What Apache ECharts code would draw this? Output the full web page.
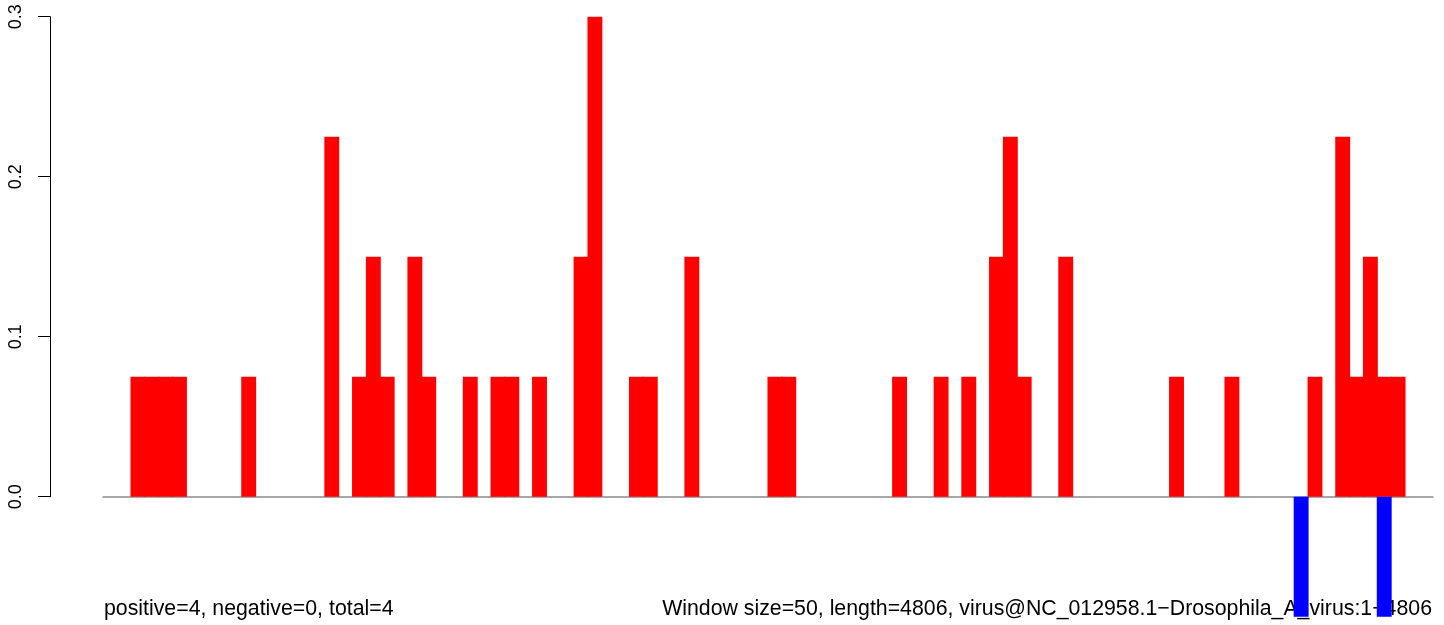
<!DOCTYPE html>
<html>
<head>
<meta charset="utf-8">
<script src="https://cdn.jsdelivr.net/npm/echarts@6/dist/echarts.min.js"></script>
<style>
  html, body { margin: 0; padding: 0; background: #ffffff; }
  #chart { width: 1444px; height: 625px; }
</style>
</head>
<body>
<div id="chart"></div>
<script>
// Window start positions (window size 50, length 4806)
const windowStarts = Array.from({length: 96}, (_, i) => String(i * 50 + 1));

// Positive-strand values per window
const positiveValues = [
  0, 0, 0.075, 0.075, 0.075, 0.075, 0, 0, 0, 0,
  0.075, 0, 0, 0, 0, 0, 0.225, 0, 0.075, 0.15,
  0.075, 0, 0.15, 0.075, 0, 0, 0.075, 0, 0.075, 0.075,
  0, 0.075, 0, 0, 0.15, 0.3, 0, 0, 0.075, 0.075,
  0, 0, 0.15, 0, 0, 0, 0, 0, 0.075, 0.075,
  0, 0, 0, 0, 0, 0, 0, 0.075, 0, 0,
  0.075, 0, 0.075, 0, 0.15, 0.225, 0.075, 0, 0, 0.15,
  0, 0, 0, 0, 0, 0, 0, 0.075, 0, 0,
  0, 0.075, 0, 0, 0, 0, 0, 0.075, 0, 0.225,
  0.075, 0.15, 0.075, 0.075, 0, 0
];

// Negative-strand values per window
const negativeValues = [
  0, 0, 0, 0, 0, 0, 0, 0, 0, 0,
  0, 0, 0, 0, 0, 0, 0, 0, 0, 0,
  0, 0, 0, 0, 0, 0, 0, 0, 0, 0,
  0, 0, 0, 0, 0, 0, 0, 0, 0, 0,
  0, 0, 0, 0, 0, 0, 0, 0, 0, 0,
  0, 0, 0, 0, 0, 0, 0, 0, 0, 0,
  0, 0, 0, 0, 0, 0, 0, 0, 0, 0,
  0, 0, 0, 0, 0, 0, 0, 0, 0, 0,
  0, 0, 0, 0, 0, 0, -0.075, 0, 0, 0,
  0, 0, -0.075, 0, 0, 0
];

const yTickValues = [0, 0.1, 0.2, 0.3];
const leftNote = 'positive=4, negative=0, total=4';
const rightNote = 'Window size=50, length=4806, virus@NC_012958.1\u2212Drosophila_A_virus:1\u22124806';

const FONT = '"Liberation Sans", Arial, Helvetica, sans-serif';
const chart = echarts.init(document.getElementById('chart'), null, {renderer: 'canvas'});

const gridLeft = 103.3, gridWidth = 1329.4, gridTop = 16.7, gridHeight = 480;
const noZero = arr => arr.map(v => (v === 0 ? null : v));

chart.setOption({
  animation: false,
  backgroundColor: '#ffffff',
  grid: { left: gridLeft, top: gridTop, width: gridWidth, height: gridHeight, containLabel: false },
  xAxis: {
    type: 'category',
    data: windowStarts,
    boundaryGap: true,
    axisLine: { show: true, lineStyle: { color: '#a6a6a6', width: 2 } },
    axisTick: { show: false },
    axisLabel: { show: false },
    splitLine: { show: false }
  },
  yAxis: {
    type: 'value',
    min: yTickValues[0],
    max: yTickValues[yTickValues.length - 1],
    interval: 0.1,
    offset: gridLeft - 50,
    axisLine: { show: true, lineStyle: { color: '#000000', width: 1 } },
    axisTick: { show: true, length: 12, lineStyle: { color: '#000000', width: 1 } },
    axisLabel: {
      rotate: 90,
      margin: 25,
      fontSize: 18,
      fontFamily: FONT,
      color: '#000000',
      formatter: v => v.toFixed(1)
    },
    splitLine: { show: false }
  },
  graphic: [
    {
      type: 'text', left: 104, top: 599, z: 0,
      style: { text: leftNote, font: '21.3px ' + FONT, fill: '#000000' }
    },
    {
      type: 'text', right: 12, top: 599, z: 0,
      style: { text: rightNote, font: '21.3px ' + FONT, fill: '#000000' }
    }
  ],
  series: [
    {
      type: 'bar', name: 'positive', data: noZero(positiveValues),
      barWidth: 14.9, barGap: '-100%', clip: false,
      itemStyle: { color: '#ff0000', borderWidth: 0 }, z: 3
    },
    {
      type: 'bar', name: 'negative', data: noZero(negativeValues),
      barWidth: 14.9, barGap: '-100%', clip: false,
      itemStyle: { color: '#0000ff', borderWidth: 0 }, z: 4
    }
  ]
});
</script>
</body>
</html>
